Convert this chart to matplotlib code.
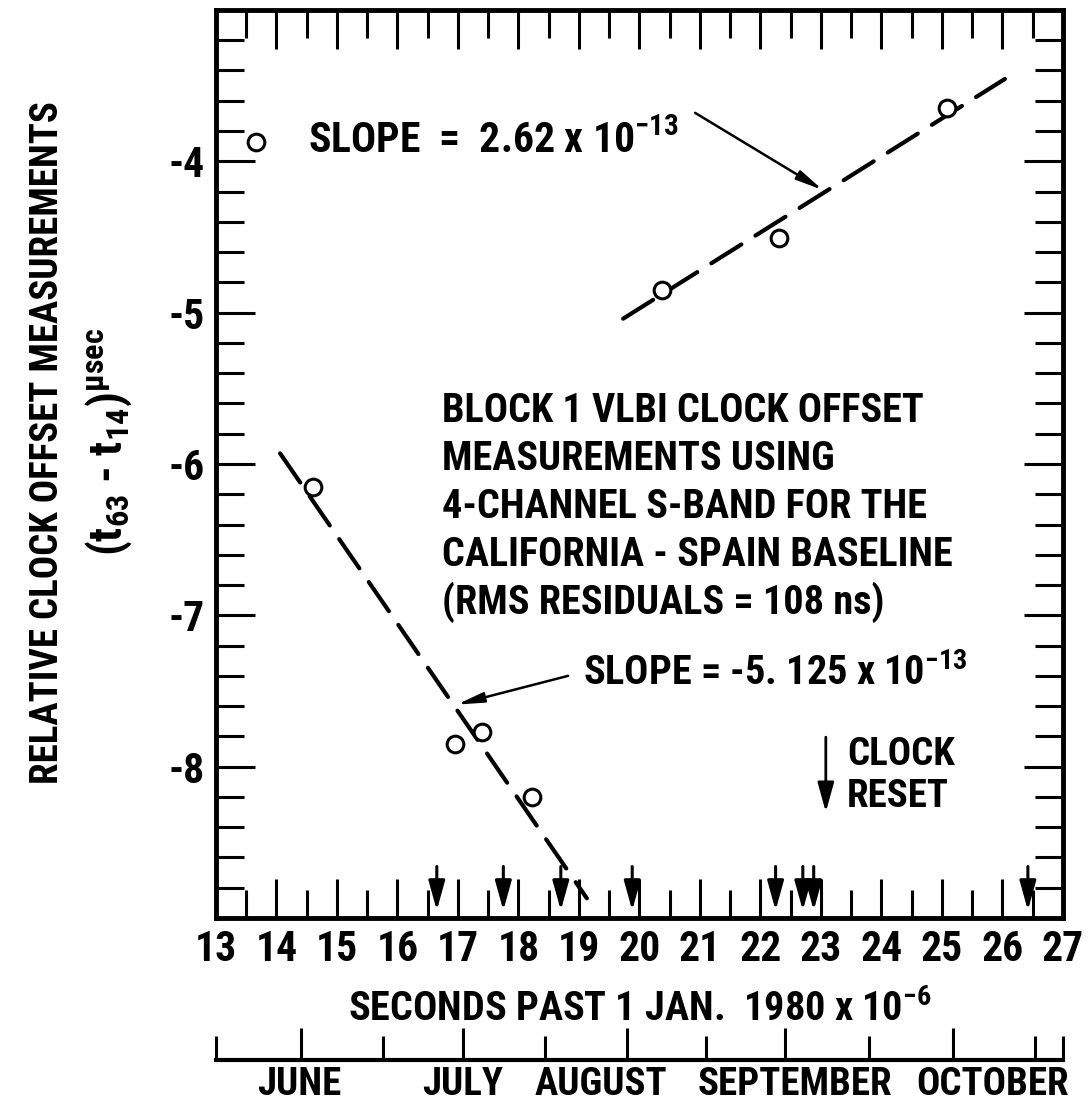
import matplotlib
matplotlib.use("Agg")
import matplotlib.pyplot as plt
import matplotlib.font_manager as fm
from matplotlib.ticker import MultipleLocator

# pick a condensed face like the original lettering
available = set(f.name for f in fm.fontManager.ttflist)
candidates = ["Roboto Condensed", "PT Sans Narrow", "Archivo Narrow",
              "Liberation Sans Narrow", "Barlow Semi Condensed",
              "IBM Plex Sans Condensed", "Encode Sans Condensed", "Roboto"]
font = next((c for c in candidates if c in available), "DejaVu Sans")

plt.rcParams["font.family"] = [font, "DejaVu Sans"]
plt.rcParams["font.weight"] = "bold"
plt.rcParams["axes.labelweight"] = "bold"
plt.rcParams["axes.unicode_minus"] = False
plt.rcParams["mathtext.fontset"] = "custom"
plt.rcParams["mathtext.rm"] = font + ":bold"
plt.rcParams["mathtext.it"] = font + ":bold"
plt.rcParams["mathtext.bf"] = font + ":bold"
plt.rcParams["mathtext.default"] = "regular"

# Measurements (seconds past 1 Jan 1980 x 1e-6, offset in usec)
point_x = [13.66, 14.60, 16.95, 17.40, 18.22, 20.37, 22.31, 25.08]
point_y = [-3.87, -6.15, -7.85, -7.77, -8.20, -4.85, -4.51, -3.65]

# fitted lines
upper_fit_x = [19.73, 26.04]
upper_fit_y = [-5.04, -3.456]
lower_fit_x = [14.06, 19.13]
lower_fit_y = [-5.93, -8.87]

# clock reset epochs
reset_x = [16.65, 17.75, 18.70, 19.88, 22.25, 22.70, 22.88, 26.42]

x_ticks = list(range(13, 28))
y_ticks = [-9, -8, -7, -6, -5, -4, -3]
y_tick_labels = ["", "-8", "-7", "-6", "-5", "-4", ""]

# month scale
month_edges = [13.0, 15.76, 18.44, 21.10, 23.79, 26.54, 27.0]
month_mids = [14.40, 17.08, 19.79, 22.40, 25.18]
month_names = ["JUNE", "JULY", "AUGUST", "SEPTEMBER", "OCTOBER"]
month_label_x = [14.37, 17.08, 19.36, 22.57, 25.84]

block_lines = [
    "BLOCK 1 VLBI CLOCK OFFSET",
    "MEASUREMENTS USING",
    "4-CHANNEL S-BAND FOR THE",
    "CALIFORNIA - SPAIN BASELINE",
    "(RMS RESIDUALS = 108 ns)",
]

fig = plt.figure(figsize=(10.88, 11.06), dpi=100)
ax = fig.add_axes([0.1985, 0.170, 0.7785, 0.821])

ax.set_xlim(13, 27)
ax.set_ylim(-9, -3)

ax.plot(upper_fit_x, upper_fit_y, color="black", lw=3, dashes=(8.5, 4),
        dash_capstyle="round")
ax.plot(lower_fit_x, lower_fit_y, color="black", lw=3, dashes=(8.5, 4),
        dash_capstyle="round")
ax.plot(point_x, point_y, "o", ms=12, mfc="white", mec="black", mew=2.2,
        zorder=5)

for rx in reset_x:
    ax.annotate("", xy=(rx, -8.95), xytext=(rx, -8.66),
                arrowprops=dict(arrowstyle="-|>,head_length=0.9,head_width=0.25",
                                lw=2.2, color="black", mutation_scale=20,
                                shrinkA=0, shrinkB=0))

# ticks
ax.set_xticks(x_ticks)
ax.set_xticklabels([str(v) for v in x_ticks])
ax.xaxis.set_minor_locator(MultipleLocator(0.5))
ax.set_yticks(y_ticks)
ax.set_yticklabels(y_tick_labels)
ax.yaxis.set_minor_locator(MultipleLocator(0.2))
ax.tick_params(which="both", direction="in", top=True, right=True,
               width=2.2, color="black", labelsize=30)
ax.tick_params(which="major", length=28, pad=8)
ax.tick_params(which="minor", length=20)
for s in ax.spines.values():
    s.set_linewidth(3.5)

# annotations
ax.text(14.52, -3.945, "SLOPE  =  2.62 x 10$^{-13}$", fontsize=30,
        va="baseline", ha="left")
ax.annotate("", xy=(23.03, -4.19), xytext=(20.92, -3.68),
            arrowprops=dict(arrowstyle="-|>,head_length=0.8,head_width=0.15",
                            lw=1.8, color="black", mutation_scale=20,
                            shrinkA=0, shrinkB=0))

y0 = -5.723
for i, line in enumerate(block_lines):
    ax.text(16.74, y0 - i * 0.317, line, fontsize=29, va="baseline", ha="left")

ax.text(19.07, -7.461, "SLOPE = -5. 125 x 10$^{-13}$", fontsize=29,
        va="baseline", ha="left")
ax.annotate("", xy=(16.98, -7.59), xytext=(18.82, -7.40),
            arrowprops=dict(arrowstyle="-|>,head_length=0.8,head_width=0.15",
                            lw=1.8, color="black", mutation_scale=20,
                            shrinkA=0, shrinkB=0))

ax.annotate("", xy=(23.08, -8.30), xytext=(23.08, -7.805),
            arrowprops=dict(arrowstyle="-|>,head_length=0.9,head_width=0.25",
                            lw=2.0, color="black", mutation_scale=20,
                            shrinkA=0, shrinkB=0))
ax.text(23.43, -7.99, "CLOCK", fontsize=28, va="baseline", ha="left")
ax.text(23.43, -8.268, "RESET", fontsize=28, va="baseline", ha="left")

# axis labels
ax.set_xlabel("SECONDS PAST 1 JAN.  1980 x 10$^{-6}$", fontsize=29, labelpad=14)
fig.text(0.044, 0.60, "RELATIVE CLOCK OFFSET MEASUREMENTS", rotation=90,
         fontsize=28, ha="center", va="center")
fig.text(0.100, 0.60, "(t$_{63}$ - t$_{14}$)$^{\u03bc sec}$", rotation=90,
         fontsize=33, ha="center", va="center")

# month scale under the plot
ax2 = fig.add_axes([0.1985, 0.0416, 0.7785, 0.05])
ax2.set_xlim(13, 27)
ax2.set_ylim(0, 1)
ax2.patch.set_visible(False)
for name in ["top", "left", "right"]:
    ax2.spines[name].set_visible(False)
ax2.spines["bottom"].set_linewidth(3)
ax2.set_yticks([])
ax2.set_xticks(month_mids)
ax2.set_xticklabels([])
ax2.set_xticks(month_edges, minor=True)
ax2.tick_params(which="both", direction="in", width=2.2, labelbottom=False)
ax2.tick_params(which="major", length=23)
ax2.tick_params(which="minor", length=17)
for mx, name in zip(month_label_x, month_names):
    ax2.text(mx, -0.64, name, fontsize=28, ha="center", va="baseline",
             transform=ax2.get_xaxis_transform())

fig.savefig("out.png", dpi=100)
